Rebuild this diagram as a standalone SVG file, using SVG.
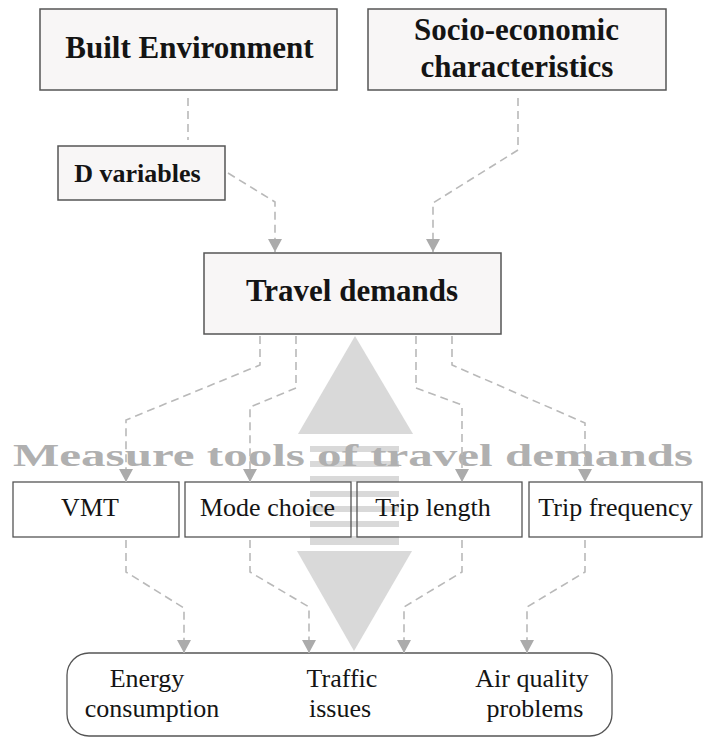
<svg xmlns="http://www.w3.org/2000/svg" width="703" height="738" viewBox="0 0 703 738">
<defs>
<style>
.box{fill:#f8f6f6;stroke:#555;stroke-width:1.5}
.obox{fill:none;stroke:#555;stroke-width:1.3}
.conn{fill:none;stroke:#b9b9b9;stroke-width:1.6;stroke-dasharray:8 5}
.tb{font-family:"Liberation Serif","Times New Roman",serif;font-weight:bold;fill:#141414;text-anchor:middle}
.tr{font-family:"Liberation Serif","Times New Roman",serif;font-size:26px;fill:#141414;text-anchor:middle}
.big{fill:#d9d9d9}
</style>
<marker id="ah" viewBox="0 0 13 14" refX="13" refY="7" markerWidth="13" markerHeight="14" markerUnits="userSpaceOnUse" orient="auto">
<path d="M0,0 L13,7 L0,14 z" fill="#ababab"/>
</marker>
</defs>
<rect width="703" height="738" fill="#ffffff"/>

<g id="bigarrow">
<polygon class="big" points="355,336 298,434 413,434"/>
<rect class="big" x="310" y="446" width="89" height="6"/>
<rect class="big" x="310" y="461" width="89" height="6"/>
<rect class="big" x="310" y="476" width="89" height="6"/>
<rect class="big" x="310" y="491" width="89" height="6"/>
<rect class="big" x="310" y="506" width="89" height="6"/>
<rect class="big" x="310" y="521" width="89" height="6"/>
<rect class="big" x="310" y="536" width="89" height="9"/>
<polygon class="big" points="297,551 412,551 354,651"/>
</g>

<g id="built-environment">
<rect class="box" x="40" y="9" width="297" height="81"/>
<text class="tb" x="189.5" y="58" font-size="31">Built Environment</text>
</g>
<g id="socio-economic">
<rect class="box" x="368" y="9" width="298" height="81"/>
<text class="tb" x="516.5" y="40" font-size="31">Socio-economic</text>
<text class="tb" x="517" y="77" font-size="31">characteristics</text>
</g>
<g id="d-variables">
<rect class="box" x="58" y="146" width="167" height="54"/>
<text class="tb" x="137.5" y="182" font-size="26">D variables</text>
</g>
<g id="travel-demands">
<rect class="box" x="204" y="253" width="297" height="81"/>
<text class="tb" x="352" y="301" font-size="31">Travel demands</text>
</g>

<g id="measure-label">
<text x="13" y="466" font-family="'Liberation Serif','Times New Roman',serif" font-weight="bold" font-size="32" fill="#b0b0b0" textLength="680" lengthAdjust="spacingAndGlyphs">Measure tools of travel demands</text>
</g>

<g id="vmt">
<rect class="obox" x="13" y="482" width="166" height="55"/>
<text class="tr" x="90" y="516">VMT</text>
</g>
<g id="mode-choice">
<rect class="obox" x="185" y="482" width="166" height="55"/>
<text class="tr" x="267.5" y="516">Mode choice</text>
</g>
<g id="trip-length">
<rect class="obox" x="357" y="482" width="165" height="55"/>
<text class="tr" x="433" y="516">Trip length</text>
</g>
<g id="trip-frequency">
<rect class="obox" x="529" y="482" width="173" height="55"/>
<text class="tr" x="615.5" y="516">Trip frequency</text>
</g>

<g id="impacts">
<rect class="obox" x="67" y="653" width="545" height="83" rx="22" ry="22"/>
<text class="tr" x="147" y="687">Energy</text>
<text class="tr" x="152" y="717">consumption</text>
<text class="tr" x="342" y="687">Traffic</text>
<text class="tr" x="340" y="717">issues</text>
<text class="tr" x="532" y="687">Air quality</text>
<text class="tr" x="535" y="717">problems</text>
</g>

<g id="connectors">
<path class="conn" d="M188,98 L188,140"/>
<path class="conn" d="M228,173 L275,202 L275,252" marker-end="url(#ah)"/>
<path class="conn" d="M518,98 L518,150 L433,203 L433,252" marker-end="url(#ah)"/>
<path class="conn" d="M260,336 L260,365 L126,420 L126,482" marker-end="url(#ah)"/>
<path class="conn" d="M296,336 L296,388 L250,407 L250,482" marker-end="url(#ah)"/>
<path class="conn" d="M416,336 L416,388 L462,405 L462,482" marker-end="url(#ah)"/>
<path class="conn" d="M452,336 L452,365 L585,423 L585,482" marker-end="url(#ah)"/>
<path class="conn" d="M126,540 L126,572 L184,608 L184,653" marker-end="url(#ah)"/>
<path class="conn" d="M250,540 L250,572 L309,607 L309,653" marker-end="url(#ah)"/>
<path class="conn" d="M462,540 L462,572 L404,607 L404,653" marker-end="url(#ah)"/>
<path class="conn" d="M585,540 L585,572 L527,607 L527,653" marker-end="url(#ah)"/>
</g>
</svg>
